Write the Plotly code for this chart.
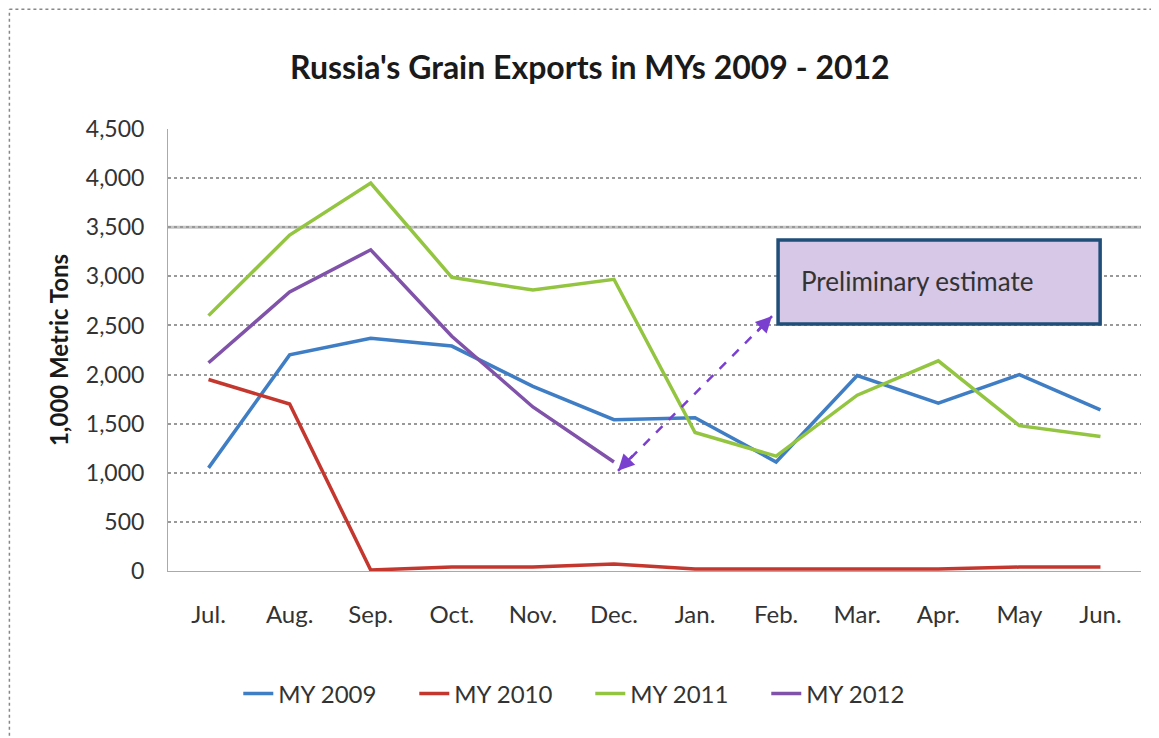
import plotly.graph_objects as go

months = ["Jul.", "Aug.", "Sep.", "Oct.", "Nov.", "Dec.", "Jan.", "Feb.", "Mar.", "Apr.", "May", "Jun."]
my2009 = [1050, 2200, 2370, 2290, 1880, 1540, 1560, 1110, 1990, 1710, 2000, 1640]
my2010 = [1950, 1700, 10, 40, 40, 70, 20, 20, 20, 20, 40, 40]
my2011 = [2600, 3420, 3950, 2990, 2860, 2970, 1410, 1170, 1790, 2140, 1480, 1370]
my2012 = [2120, 2840, 3270, 2390, 1670, 1110]
y_ticks = [0, 500, 1000, 1500, 2000, 2500, 3000, 3500, 4000, 4500]

series = [("MY 2009", my2009, "#3f7ec4"), ("MY 2010", my2010, "#c4372e"),
          ("MY 2011", my2011, "#93c540"), ("MY 2012", my2012, "#8052aa")]

font = "Lato, 'Open Sans', sans-serif"
arrow_color = "#7b3fd0"

fig = go.Figure()
for name, vals, color in series:
    fig.add_trace(go.Scatter(x=months[:len(vals)], y=vals, mode="lines", name=name,
                             line=dict(color=color, width=3.5)))

# the 3,500 gridline is solid in the original
fig.add_hline(y=3500, line=dict(color="#c4c4c4", width=3), layer="below")

# dashed double-headed arrow pointing to the preliminary estimate
fig.add_shape(type="line", xref="x", yref="y", x0=5.05, y0=1020, x1=6.95, y1=2595,
              line=dict(color=arrow_color, width=2.5, dash="dash"))
fig.add_annotation(x=5.05, y=1020, ax=5.25, ay=1190, xref="x", yref="y", axref="x", ayref="y",
                   text="", showarrow=True, arrowhead=2, arrowsize=1.3, arrowwidth=2.5,
                   arrowcolor=arrow_color)
fig.add_annotation(x=6.95, y=2595, ax=6.75, ay=2425, xref="x", yref="y", axref="x", ayref="y",
                   text="", showarrow=True, arrowhead=2, arrowsize=1.3, arrowwidth=2.5,
                   arrowcolor=arrow_color)

# text box
fig.add_shape(type="rect", xref="paper", yref="paper", x0=0.627, x1=0.958, y0=0.559, y1=0.749,
              fillcolor="#d6c8e6", line=dict(color="#1f4e79", width=3.5))
fig.add_annotation(xref="paper", yref="paper", x=0.649, y=0.657, xanchor="left", yanchor="middle",
                   text="Preliminary estimate", showarrow=False,
                   font=dict(family=font, size=26, color="#333333"))

# outer dotted frame (left and top)
fig.add_shape(type="line", xref="paper", yref="paper", x0=-0.163, x1=1.03, y0=1.271, y1=1.271,
              line=dict(color="#888888", width=1.5, dash="dot"))
fig.add_shape(type="line", xref="paper", yref="paper", x0=-0.163, x1=-0.163, y0=-0.4, y1=1.271,
              line=dict(color="#888888", width=1.5, dash="dot"))

fig.update_layout(
    width=1159, height=738,
    margin=dict(l=160, r=26, t=121, b=175),
    paper_bgcolor="white", plot_bgcolor="white",
    title=dict(text="<b>Russia's Grain Exports in MYs 2009 - 2012</b>", x=0.502, xanchor="center",
               y=0.919, yanchor="middle", font=dict(family=font, size=32, color="#1a1a1a")),
    font=dict(family=font, size=23, color="#333333"),
    showlegend=True,
    legend=dict(orientation="h", x=0.434, xanchor="center", y=-0.278, yanchor="middle",
                entrywidth=131, entrywidthmode="pixels",
                font=dict(family=font, size=24, color="#333333"), traceorder="normal"),
    xaxis=dict(range=[-0.5, 11.5], showgrid=False, showline=True, linecolor="#aaaaaa", linewidth=1,
               ticks="", ticklabelstandoff=22, tickfont=dict(size=24)),
    yaxis=dict(range=[0, 4500], tickvals=y_ticks, tickformat=",", showgrid=True,
               gridcolor="#999999", griddash="dot", gridwidth=1.5,
               showline=True, linecolor="#aaaaaa", linewidth=1, zeroline=False,
               ticks="", ticklabelstandoff=18, tickfont=dict(size=23),
               title=dict(text="<b>1,000 Metric Tons</b>", standoff=10,
                          font=dict(size=24, color="#1a1a1a"))),
)

fig.write_html("out.html")
